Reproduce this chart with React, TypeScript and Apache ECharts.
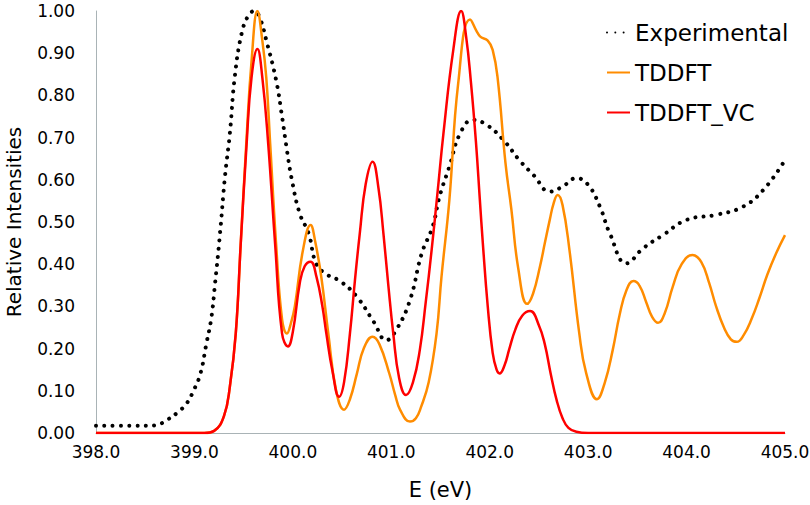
import React, { useEffect, useRef } from 'react';
import * as echarts from 'echarts';

// values
const expE = [398.0, 398.3, 398.6, 398.72, 398.82, 398.92, 398.99, 399.06, 399.12, 399.17, 399.21, 399.26, 399.31, 399.36, 399.41, 399.48, 399.55, 399.61, 399.67, 399.73, 399.83, 399.89, 399.94, 399.99, 400.07, 400.16, 400.24, 400.35, 400.48, 400.65, 400.82, 400.95, 401.05, 401.19, 401.31, 401.42, 401.49, 401.59, 401.70, 401.83, 401.97, 402.14, 402.30, 402.45, 402.61, 402.74, 402.88, 403.0, 403.12, 403.22, 403.39, 403.56, 403.76, 404.0, 404.30, 404.57, 404.78, 405.0];
const expI = [0.017, 0.017, 0.018, 0.031, 0.047, 0.07, 0.10, 0.14, 0.21, 0.27, 0.355, 0.473, 0.607, 0.71, 0.844, 0.947, 0.99, 1.0, 0.98, 0.931, 0.836, 0.75, 0.67, 0.60, 0.52, 0.473, 0.40, 0.375, 0.36, 0.323, 0.264, 0.22, 0.244, 0.315, 0.426, 0.489, 0.56, 0.631, 0.71, 0.742, 0.73, 0.694, 0.647, 0.61, 0.572, 0.584, 0.604, 0.588, 0.536, 0.473, 0.402, 0.438, 0.469, 0.505, 0.517, 0.536, 0.576, 0.647];

const tdE = [398.0, 399.1, 399.2, 399.3, 399.36, 399.42, 399.47, 399.53, 399.58, 399.64, 399.69, 399.73, 399.77, 399.83, 399.89, 399.94, 399.98, 400.02, 400.1, 400.18, 400.23, 400.29, 400.36, 400.44, 400.52, 400.58, 400.65, 400.72, 400.81, 400.88, 400.98, 401.04, 401.09, 401.19, 401.25, 401.3, 401.38, 401.46, 401.51, 401.59, 401.68, 401.8, 401.9, 401.98, 402.03, 402.08, 402.16, 402.22, 402.29, 402.38, 402.44, 402.51, 402.56, 402.61, 402.65, 402.69, 402.74, 402.81, 402.91, 402.98, 403.09, 403.17, 403.25, 403.32, 403.39, 403.46, 403.52, 403.59, 403.65, 403.71, 403.78, 403.86, 403.95, 404.06, 404.15, 404.23, 404.30, 404.38, 404.45, 404.51, 404.58, 404.66, 404.74, 404.82, 404.91, 405.0];
const tdI = [0, 0, 0.005, 0.04, 0.11, 0.236, 0.447, 0.70, 0.88, 1.0, 0.93, 0.842, 0.684, 0.447, 0.27, 0.236, 0.26, 0.30, 0.43, 0.493, 0.45, 0.368, 0.236, 0.10, 0.055, 0.08, 0.14, 0.2, 0.228, 0.21, 0.141, 0.09, 0.055, 0.027, 0.035, 0.06, 0.12, 0.236, 0.37, 0.552, 0.829, 0.98, 0.94, 0.93, 0.908, 0.842, 0.64, 0.53, 0.39, 0.306, 0.33, 0.394, 0.45, 0.505, 0.545, 0.564, 0.54, 0.434, 0.236, 0.142, 0.08, 0.12, 0.197, 0.28, 0.339, 0.36, 0.35, 0.31, 0.275, 0.261, 0.285, 0.347, 0.40, 0.422, 0.405, 0.355, 0.30, 0.25, 0.222, 0.216, 0.232, 0.27, 0.32, 0.375, 0.426, 0.469];

const vcE = [398.0, 399.1, 399.2, 399.3, 399.36, 399.42, 399.47, 399.53, 399.58, 399.64, 399.69, 399.75, 399.82, 399.89, 399.95, 400.0, 400.07, 400.12, 400.18, 400.24, 400.3, 400.34, 400.4, 400.47, 400.52, 400.58, 400.63, 400.68, 400.74, 400.81, 400.87, 400.92, 400.97, 401.02, 401.08, 401.15, 401.22, 401.29, 401.35, 401.41, 401.47, 401.53, 401.63, 401.71, 401.76, 401.81, 401.86, 401.90, 401.93, 401.98, 402.03, 402.07, 402.10, 402.15, 402.20, 402.26, 402.33, 402.41, 402.5, 402.56, 402.62, 402.68, 402.74, 402.8, 402.88, 403.0, 405.0];
const vcI = [0, 0, 0.005, 0.04, 0.11, 0.236, 0.447, 0.684, 0.842, 0.91, 0.842, 0.684, 0.447, 0.236, 0.205, 0.24, 0.355, 0.395, 0.406, 0.37, 0.3, 0.236, 0.15, 0.086, 0.12, 0.236, 0.36, 0.473, 0.59, 0.643, 0.58, 0.473, 0.35, 0.236, 0.13, 0.09, 0.12, 0.197, 0.31, 0.434, 0.57, 0.71, 0.908, 1.0, 0.94, 0.829, 0.69, 0.552, 0.45, 0.30, 0.19, 0.15, 0.141, 0.16, 0.20, 0.245, 0.278, 0.289, 0.255, 0.21, 0.14, 0.078, 0.035, 0.012, 0.003, 0, 0];

const zip = (xs: number[], ys: number[]) => xs.map((x, i) => [x, ys[i]]);

const FONT = 'DejaVu Sans';
const AXIS_GREY = '#a9b3b6';

export default function App() {
  const ref = useRef<HTMLDivElement>(null);
  useEffect(() => {
    document.body.style.margin = '0';
    if (!ref.current) return;
    const chart = echarts.init(ref.current, null, { renderer: 'svg' });
    const line = (name: string, xs: number[], ys: number[], lineStyle: any) => ({
      name,
      type: 'line',
      data: zip(xs, ys),
      smooth: 0.45,
      symbol: 'none',
      itemStyle: { color: lineStyle.color },
      lineStyle,
    });
    chart.setOption({
      animation: false,
      backgroundColor: '#fff',
      grid: { left: 96, right: 25, top: 11, bottom: 72, outerBoundsMode: 'none' },
      legend: {
        orient: 'vertical',
        left: 601,
        top: 16,
        itemWidth: 23,
        itemHeight: 14,
        itemGap: 17,
        itemStyle: { opacity: 0 },
        textStyle: { fontFamily: FONT, fontSize: 23, lineHeight: 23, color: '#000' },
        data: ['Experimental', 'TDDFT', 'TDDFT_VC'],
      },
      xAxis: {
        type: 'value',
        min: 398,
        max: 405,
        interval: 1,
        name: 'E (eV)',
        nameLocation: 'middle',
        nameGap: 46,
        nameTextStyle: { fontFamily: FONT, fontSize: 21, color: '#000' },
        axisLine: { show: true, lineStyle: { color: AXIS_GREY, width: 1 } },
        axisTick: { show: false },
        splitLine: { show: false },
        axisLabel: { fontFamily: FONT, fontSize: 17, color: '#000', margin: 10, formatter: (v: number) => v.toFixed(1) },
      },
      yAxis: {
        type: 'value',
        min: 0,
        max: 1,
        interval: 0.1,
        name: 'Relative Intensities',
        nameLocation: 'middle',
        nameGap: 72,
        nameTextStyle: { fontFamily: FONT, fontSize: 20, color: '#000' },
        axisLine: { show: true, lineStyle: { color: AXIS_GREY, width: 1 } },
        axisTick: { show: false },
        splitLine: { show: false },
        axisLabel: { fontFamily: FONT, fontSize: 17, color: '#000', margin: 21, formatter: (v: number) => v.toFixed(2) },
      },
      series: [
        line('Experimental', expE, expI, { color: '#000', width: 4, type: [0.01, 8.3], cap: 'round' }),
        line('TDDFT', tdE, tdI, { color: '#ff8c00', width: 2.5 }),
        line('TDDFT_VC', vcE, vcI, { color: '#ff0000', width: 2.5 }),
      ],
    });
    return () => chart.dispose();
  }, []);
  return <div ref={ref} style={{ width: 810, height: 505 }} />;
}
